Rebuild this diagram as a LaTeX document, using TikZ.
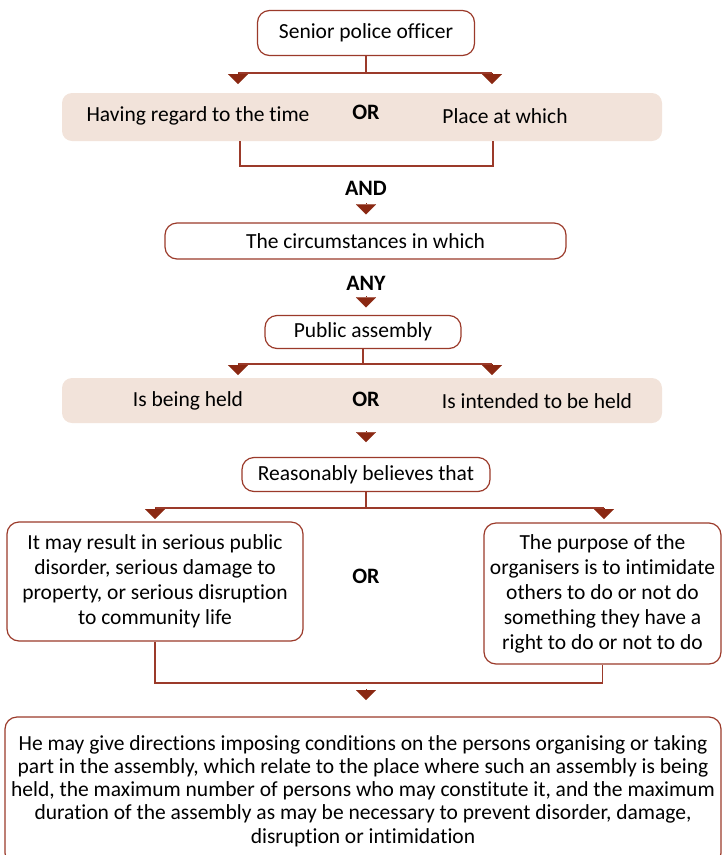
\documentclass[tikz,border=0pt]{standalone}
\usepackage{fontspec}
\setmainfont[Ligatures=NoCommon]{Carlito}
\usetikzlibrary{arrows.meta,calc}
\definecolor{rust}{HTML}{9B3A2A}
\definecolor{tipred}{HTML}{8A2812}
\definecolor{bandfill}{HTML}{F2E3DA}
\tikzset{
  box/.style={draw=rust,line width=1.2pt,rounded corners=12pt,fill=white,
    inner sep=0pt,align=center,font=\fontsize{21.5}{25}\selectfont},
  bandbox/.style={fill=bandfill,rounded corners=10pt,inner sep=0pt},
  lbl/.style={inner sep=0pt,font=\fontsize{21.5}{25}\selectfont},
  kw/.style={inner sep=0pt,font=\fontsize{22}{25}\selectfont\bfseries},
  link/.style={draw=rust,line width=1.2pt},
  tip/.style={draw=tipred,line width=0.1pt,
    -{Triangle[width=20pt,length=10pt,fill=tipred]}},
}
\begin{document}
\begin{tikzpicture}[x=1pt,y=-1pt]
  \useasboundingbox (0,0) rectangle (722,855);

  % officer and first choice
  \node[box,minimum width=217pt,minimum height=45pt] (officer) at (366,33) {Senior police officer};
  \coordinate (t1l) at (238,73);
  \coordinate (t1r) at (492,73);
  \draw[link] (officer.south) |- (t1l);
  \draw[link] (officer.south) |- (t1r);
  \draw[tip] (t1l) -- ++(0,11);
  \draw[tip] (t1r) -- ++(0,11);

  \node[bandbox,minimum width=600pt,minimum height=48pt] (band1) at (362,117) {};
  \node[lbl] (time) at (198,116) {Having regard to the time};
  \node[kw] (or1) at (366,112) {OR};
  \node[lbl] (place) at (505,116) {Place at which};
  \coordinate (b1l) at (240,141);
  \coordinate (b1r) at (493,141);
  \draw[link] (b1l) -- ++(0,25) -| (b1r);

  \node[kw] (and) at (366,188) {AND};
  \draw[tip] ($(and.south)+(0,8)$) -- ++(0,11);

  \node[box,minimum width=401pt,minimum height=36pt] (circ) at (365.5,241) {The circumstances in which};

  \node[kw] (any) at (366,283) {ANY};
  \draw[tip] ($(any.south)+(0,6)$) -- ++(0,11);

  % assembly
  \node[box,minimum width=196pt,minimum height=33pt] (public) at (363,332) {Public assembly};
  \coordinate (t2l) at (238,364);
  \coordinate (t2r) at (492,364);
  \draw[link] (public.south) |- (t2l);
  \draw[link] (public.south) |- (t2r);
  \draw[tip] (t2l) -- ++(0,11);
  \draw[tip] (t2r) -- ++(0,11);

  \node[bandbox,minimum width=600pt,minimum height=45pt] (band2) at (362,400.5) {};
  \node[lbl] (held) at (188,401) {Is being held};
  \node[kw] (or2) at (366,399) {OR};
  \node[lbl] (intended) at (537,401) {Is intended to be held};
  \draw[tip] ($(band2.south)+(4,8)$) -- ++(0,11);

  % belief
  \node[box,minimum width=248pt,minimum height=34pt] (believe) at (366,474.5) {Reasonably believes that};
  \coordinate (t3l) at (155,508);
  \coordinate (t3r) at (604,508);
  \draw[link] (believe.south) |- (t3l);
  \draw[link] (believe.south) |- (t3r);
  \draw[tip] (t3l) -- ++(0,11);
  \draw[tip] (t3r) -- ++(0,11);

  \node[box,minimum width=296pt,minimum height=119pt] (disorder) at (155,581.5)
    {It may result in serious public\\disorder, serious damage to\\property, or serious disruption\\to community life};
  \node[kw] (or3) at (366,576) {OR};
  \node[box,minimum width=237pt,minimum height=141pt] (purpose) at (602.5,593.5)
    {The purpose of the\\organisers is to intimidate\\others to do or not do\\something they have a\\right to do or not to do};
  \coordinate (join) at (366,683);
  \draw[link] (disorder.south) |- (join) -| (purpose.south);
  \draw[tip] ($(join)+(0,6)$) -- ++(0,11);

  % outcome
  \node[box,minimum width=716pt,minimum height=148pt,
    font=\fontsize{21.5}{23.2}\selectfont] (directions) at (363,791)
    {He may give directions imposing conditions on the persons organising or taking\\
     part in the assembly, which relate to the place where such an assembly is being\\
     held, the maximum number of persons who may constitute it, and the maximum\\
     duration of the assembly as may be necessary to prevent disorder, damage,\\
     disruption or intimidation};
\end{tikzpicture}
\end{document}
